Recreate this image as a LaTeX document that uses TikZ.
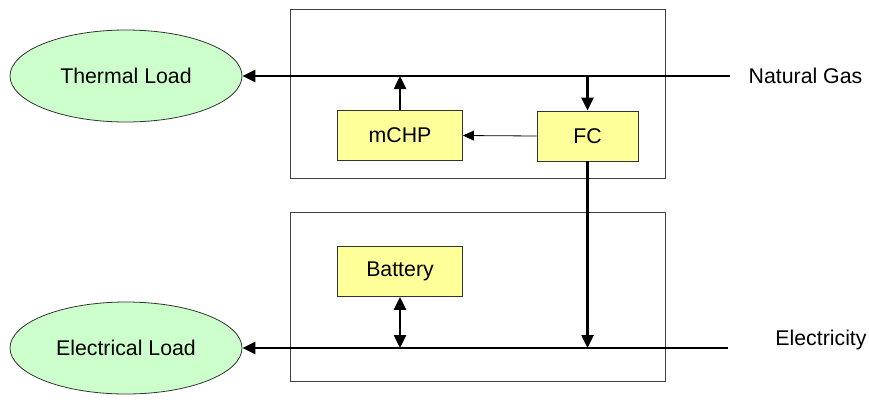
\documentclass[tikz,border=0pt]{standalone}
\usepackage{fontspec}
\setmainfont{Liberation Sans}
\usetikzlibrary{shapes.geometric,arrows.meta}
\definecolor{boxyellow}{HTML}{FFFF99}
\definecolor{loadgreen}{HTML}{CCFFCC}
\begin{document}
\begin{tikzpicture}[x=1bp,y=-1bp,
  every node/.style={font=\fontsize{21.3bp}{25bp}\selectfont},
  frame/.style={draw=black!75,line width=0.9bp,minimum width=375bp,minimum height=169bp,inner sep=0},
  unit/.style={draw=black!80,fill=boxyellow,line width=0.9bp,minimum width=125bp,minimum height=50bp,inner sep=0},
  load/.style={ellipse,draw=black!80,fill=loadgreen,line width=0.8bp,minimum width=232bp,minimum height=92bp,inner sep=0},
  bus/.style={line width=2.5bp,-{Triangle[length=13bp,width=12bp]}},
  thin/.style={line width=0.8bp,-{Triangle[length=11bp,width=10bp]}}]
\useasboundingbox (0,0) rectangle (869,412);
\node[frame] (top) at (477.5,93.5) {};
\node[frame] (bot) at (477.5,297) {};
\node[load] (thermal) at (126,76) {Thermal Load};
\node[load] (elec) at (126,348) {Electrical Load};
\node[unit] (mchp) at (400,135.5) {mCHP};
\node[unit,minimum width=101bp] (fc) at (587.5,136) {FC};
\node[unit] (batt) at (400,271.5) {Battery};
\node (gas) at (805.5,76) {Natural Gas};
\node (el) at (821,340) {Electricity};
\coordinate (ngend) at (730,76);
\coordinate (elend) at (728,348);
\draw[bus] (ngend) -- (thermal.east);
\draw[bus] (elend) -- (elec.east);
\draw[bus] (mchp.north) -- (mchp.north |- ngend);
\draw[bus] (fc.north |- ngend) -- (fc.north);
\draw[bus] (fc.south) -- (fc.south |- elend);
\draw[line width=2.5bp,{Triangle[length=13bp,width=12bp]}-{Triangle[length=13bp,width=12bp]}] (batt.south) -- (batt.south |- elend);
\draw[thin] (fc.west) -- (mchp.east);
\end{tikzpicture}
\end{document}
